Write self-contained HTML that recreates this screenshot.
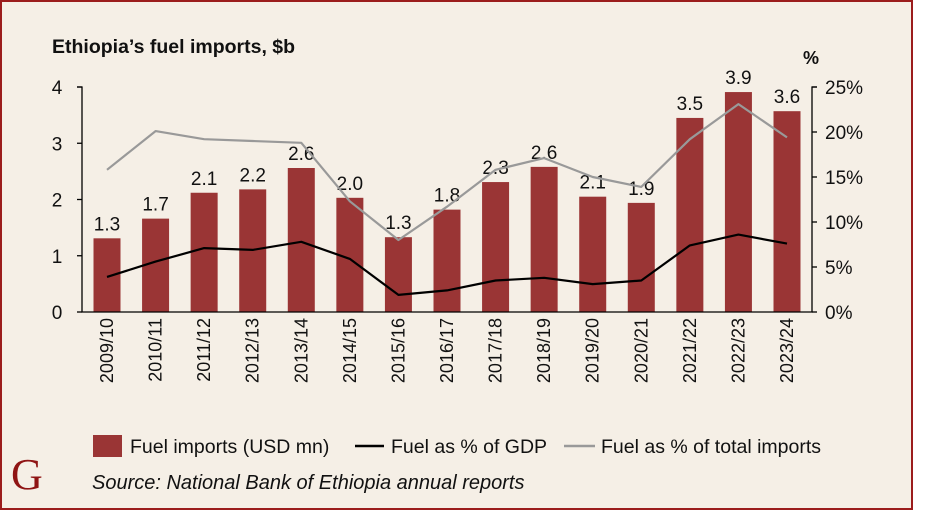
<!DOCTYPE html>
<html><head><meta charset="utf-8"><style>
html,body{margin:0;padding:0;background:#fff}
#frame{position:absolute;left:0;top:0;width:909px;height:506px;border:2px solid #9b1c1c;background:#f5efe6}
svg{position:absolute;left:0;top:0}
text{font-family:"Liberation Sans",sans-serif;fill:#111}
</style></head><body>
<div id="frame"></div>
<svg id="chart" width="929" height="511"></svg>
<script>
const categories=["2009/10","2010/11","2011/12","2012/13","2013/14","2014/15","2015/16","2016/17","2017/18","2018/19","2019/20","2020/21","2021/22","2022/23","2023/24"];
const fuelImports=[1.31,1.66,2.12,2.18,2.56,2.03,1.33,1.82,2.31,2.58,2.05,1.94,3.45,3.91,3.57];
const fuelLabels=["1.3","1.7","2.1","2.2","2.6","2.0","1.3","1.8","2.3","2.6","2.1","1.9","3.5","3.9","3.6"];
const pctGDP=[3.9,5.6,7.1,6.9,7.8,5.9,1.9,2.4,3.5,3.8,3.1,3.5,7.4,8.6,7.6];
const pctImports=[15.8,20.1,19.2,19.0,18.8,12.3,8.0,11.7,15.8,17.1,15.0,13.9,19.2,23.1,19.4];
const leftTicks=[0,1,2,3,4];
const rightTicks=[0,5,10,15,20,25];

const NS="http://www.w3.org/2000/svg";
const svg=document.getElementById('chart');
function el(t,a,txt){const e=document.createElementNS(NS,t);for(const k in a)e.setAttribute(k,a[k]);if(txt!==undefined)e.textContent=txt;svg.appendChild(e);return e;}
const x0=82,x1=812,yB=312,yT=87;
const yL=v=>yB-(v/4)*(yB-yT);
const yR=v=>yB-(v/25)*(yB-yT);
const step=(787-107)/14;
const xC=i=>107+i*step;
const bw=27;

let e=el('text',{x:52,y:53,'font-size':19.5,'font-weight':'bold'},"Ethiopia’s fuel imports, $b");


e=el('text',{x:803,y:64,'font-size':18,'font-weight':'bold'},"%");



fuelImports.forEach((v,i)=>{
  const b=el('rect',{x:xC(i)-bw/2,y:yL(v),width:bw,height:yB-yL(v),fill:'#9a3535'});
  
  
  const t=el('text',{x:xC(i),y:yL(v)-8,'font-size':19,'text-anchor':'middle'},fuelLabels[i]);
  
  
});
function line(arr,color,name){
  const p=el('polyline',{points:arr.map((v,i)=>xC(i)+','+yR(v)).join(' '),fill:'none',stroke:color,'stroke-width':2.2,'stroke-linejoin':'round'});
  
  
}
line(pctImports,'#999','line-pct-total-imports');
line(pctGDP,'#000','line-pct-gdp');
e=el('path',{d:`M77,${yT}H${x0}V${yB}H${x1}V${yT}H817`,fill:'none',stroke:'#000','stroke-width':1.3});


leftTicks.forEach(v=>{
  el('line',{x1:77,x2:x0,y1:yL(v),y2:yL(v),stroke:'#000','stroke-width':1.3});
  const t=el('text',{x:57,y:yL(v)+7,'font-size':19,'text-anchor':'middle'},String(v));
  
  
});
rightTicks.forEach(v=>{
  el('line',{x1:x1,x2:817,y1:yR(v),y2:yR(v),stroke:'#000','stroke-width':1.3});
  const t=el('text',{x:825,y:yR(v)+7,'font-size':19},v+'%');
  
  
});
categories.forEach((c,i)=>{
  const t=el('text',{x:0,y:0,'font-size':18,'text-anchor':'end',transform:`translate(${xC(i)+6},318) rotate(-90)`},c);
  
  
});
e=el('rect',{x:93,y:435,width:29,height:22,fill:'#9a3535'});


e=el('text',{x:130,y:453,'font-size':19.5},"Fuel imports (USD mn)");


el('line',{x1:355,x2:384,y1:446,y2:446,stroke:'#000','stroke-width':2.5});
e=el('text',{x:391,y:453,'font-size':19.5},"Fuel as % of GDP");


el('line',{x1:564,x2:595,y1:446,y2:446,stroke:'#999','stroke-width':2.5});
e=el('text',{x:601,y:453,'font-size':19.5},"Fuel as % of total imports");


e=el('text',{x:92,y:489,'font-size':20,'font-style':'italic'},"Source: National Bank of Ethiopia annual reports");


e=el('text',{x:11,y:489,'font-size':44,style:'font-family:"Liberation Serif",serif;fill:#8f1414'},"G");


</script>
</body></html>
